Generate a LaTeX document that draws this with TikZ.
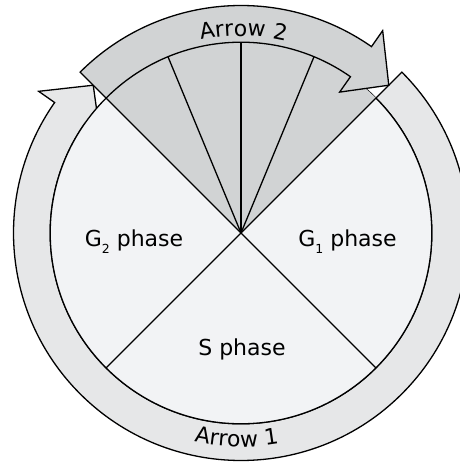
\documentclass[tikz,border=0pt]{standalone}
\usepackage{fontspec}
\setmainfont{DejaVu Sans}
\usetikzlibrary{decorations.text}
\definecolor{cellfill}{HTML}{F2F3F5}
\definecolor{ringfill}{HTML}{E6E7E8}
\definecolor{darkfill}{HTML}{D1D3D4}
\newcommand{\lblfont}{\fontsize{22}{25}\selectfont}
\newcommand{\subnum}[1]{\raisebox{-0.28em}{\fontsize{12.5}{12.5}\selectfont #1}}
\tikzset{
  outl/.style={draw=black, line width=1.3pt, line join=miter},
  lbl/.style={font=\lblfont, anchor=base, inner sep=0pt}
}
\begin{document}
\begin{tikzpicture}[x=1pt,y=1pt]
\useasboundingbox (0,0) rectangle (460,464);
\clip (0,0) rectangle (460,464);
\coordinate (C) at (241,231);
\begin{scope}[shift={(C)}]
\def\Ri{190.8}
\def\Ro{227.5}
% Arrow 1 (outer ring, clockwise)
\draw[outl, fill=ringfill] (45:\Ro) arc[start angle=45, end angle=-215, radius=\Ro]
  -- (145:247) -- (135:209) -- (145:172) -- (145:\Ri)
  arc[start angle=145, end angle=405, radius=\Ri] -- cycle;
% cell circle
\draw[outl, fill=cellfill] (0,0) circle[radius=\Ri];
% top sector
\fill[darkfill] (0,0) -- (45:\Ri) arc[start angle=45, end angle=135, radius=\Ri] -- cycle;
\foreach \a in {45,67.5,90,112.5,135,225,315}
  \draw[outl] (0,0) -- (\a:\Ri);
% Arrow 2
\draw[outl, fill=darkfill] (135:\Ro) arc[start angle=135, end angle=55, radius=\Ro]
  -- (55:247) -- (45:209) -- (55:172) -- (55:\Ri)
  arc[start angle=55, end angle=135, radius=\Ri] -- cycle;
% arrow labels along arcs
\path[decorate, decoration={text along path, text={|\lblfont|Arrow 2}, text align=center}]
  (125.3:197) arc[start angle=125.3, end angle=53.3, radius=197];
\path[decorate, decoration={text along path, text={|\lblfont|Arrow 1}, text align=center}]
  (233.8:214) arc[start angle=233.8, end angle=303.8, radius=214];
\end{scope}
\node[lbl] (g2) at (134,217) {G\subnum{2} phase};
\node[lbl] (g1) at (347.5,217) {G\subnum{1} phase};
\node[lbl] (s) at (242,108) {S phase};
\end{tikzpicture}
\end{document}
